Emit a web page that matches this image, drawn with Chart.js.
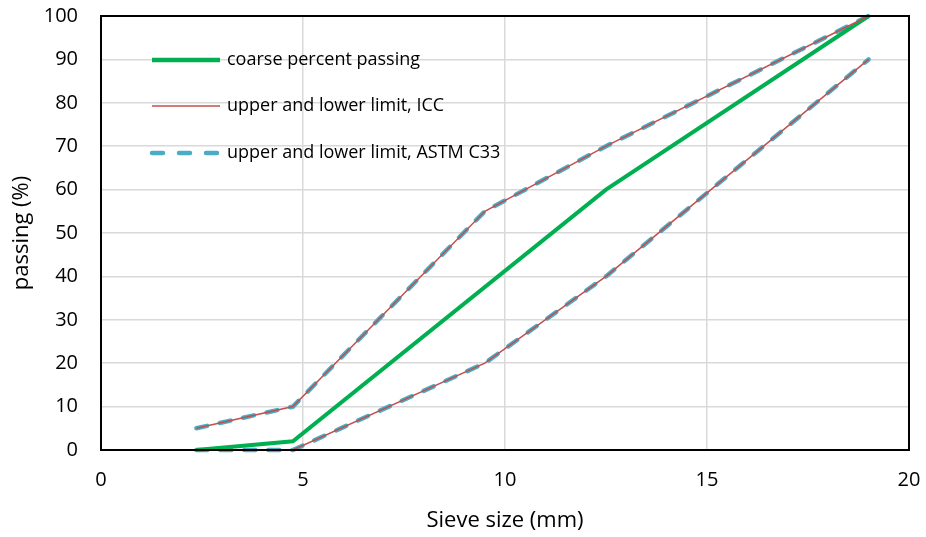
<!DOCTYPE html>
<html>
<head>
<meta charset="utf-8">
<script src="https://cdn.jsdelivr.net/npm/chart.js@4/dist/chart.umd.min.js"></script>
<style>
  html, body { margin: 0; padding: 0; background: #fff; }
  #wrap { width: 926px; height: 537px; }
</style>
</head>
<body>
<div id="wrap"><canvas id="c" width="926" height="537"></canvas></div>
<script>
// Sieve sizes (mm) and percent passing
const coarseSizes   = [2.36, 4.75, 12.5, 19];
const coarsePassing = [0, 2, 60, 100];

const limitSizes = [2.36, 4.75, 9.5, 12.5, 19];
const upperLimit = [5, 10, 55, 70, 100];
const lowerLimit = [0, 0, 20, 40, 90];

const xTicks = [0, 5, 10, 15, 20];
const yTicks = [0, 10, 20, 30, 40, 50, 60, 70, 80, 90, 100];

const legendLabels = [
  'coarse percent passing',
  'upper and lower limit, ICC',
  'upper and lower limit, ASTM C33'
];

const GREEN = '#00B050';
const RED = '#C0504D';
const BLUE = '#4BACC6';
const FONT = '"Open Sans", Lato, sans-serif';

const pts = (xs, ys) => xs.map((x, i) => ({ x: x, y: ys[i] }));

const iccStyle = { borderColor: RED, borderWidth: 1.5, pointRadius: 0, tension: 0, fill: false, clip: 6 };
const astmStyle = { borderColor: BLUE, borderWidth: 4.5, borderDash: [11, 13], borderCapStyle: 'round',
  pointRadius: 0, tension: 0, fill: false, clip: 6 };

// Frame around the plotting area plus an inset legend
const framePlugin = {
  id: 'frame',
  afterDraw(chart) {
    const { ctx, chartArea: a } = chart;
    ctx.save();
    ctx.strokeStyle = '#000';
    ctx.lineWidth = 2;
    ctx.strokeRect(a.left, a.top, a.right - a.left, a.bottom - a.top);

    const items = [
      { color: GREEN, width: 4.5, dash: [], cap: 'butt', y: 60 },
      { color: RED, width: 1.5, dash: [], cap: 'butt', y: 106 },
      { color: BLUE, width: 4.5, dash: [11, 16], cap: 'round', y: 153 }
    ];
    const x0 = 152, x1 = 220;
    ctx.font = '18px ' + FONT;
    ctx.textBaseline = 'middle';
    ctx.fillStyle = '#000';
    items.forEach((it, i) => {
      ctx.beginPath();
      ctx.setLineDash(it.dash);
      ctx.lineCap = it.cap;
      ctx.strokeStyle = it.color;
      ctx.lineWidth = it.width;
      ctx.moveTo(x0, it.y);
      ctx.lineTo(x1, it.y);
      ctx.stroke();
      ctx.setLineDash([]);
      ctx.fillText(legendLabels[i], 227, it.y);
    });
    ctx.restore();
  }
};

new Chart(document.getElementById('c'), {
  type: 'line',
  data: {
    datasets: [
      Object.assign({ label: legendLabels[1] + ' upper', data: pts(limitSizes, upperLimit) }, iccStyle),
      Object.assign({ label: legendLabels[1] + ' lower', data: pts(limitSizes, lowerLimit) }, iccStyle),
      Object.assign({ label: legendLabels[0], data: pts(coarseSizes, coarsePassing),
        borderColor: GREEN, borderWidth: 4, pointRadius: 0, tension: 0, fill: false, clip: 6 }),
      Object.assign({ label: legendLabels[2] + ' upper', data: pts(limitSizes, upperLimit) }, astmStyle),
      Object.assign({ label: legendLabels[2] + ' lower', data: pts(limitSizes, lowerLimit) }, astmStyle)
    ]
  },
  options: {
    responsive: false,
    animation: false,
    layout: { padding: { top: 16, right: 17, left: 0, bottom: 0 } },
    plugins: { legend: { display: false }, tooltip: { enabled: false } },
    scales: {
      x: {
        type: 'linear',
        min: 0, max: 20,
        afterBuildTicks: s => { s.ticks = xTicks.map(v => ({ value: v })); },
        afterFit: s => { s.height = 87; s.paddingLeft = 0; s.paddingRight = 0; },
        grid: { color: '#d9d9d9', lineWidth: 1.5, drawTicks: false },
        border: { display: false },
        ticks: { font: { family: FONT, size: 20 }, color: '#000', padding: 18, maxRotation: 0 },
        title: { display: true, text: 'Sieve size (mm)', font: { family: FONT, size: 22 }, color: '#000', padding: { top: 0, bottom: 3 } }
      },
      y: {
        type: 'linear',
        min: 0, max: 100,
        afterBuildTicks: s => { s.ticks = yTicks.map(v => ({ value: v })); },
        afterFit: s => { s.width = 101; s.paddingTop = 0; s.paddingBottom = 0; },
        grid: { color: '#d9d9d9', lineWidth: 1.5, drawTicks: false },
        border: { display: false },
        ticks: { font: { family: FONT, size: 20 }, color: '#000', padding: 23 },
        title: { display: true, text: 'passing (%)', font: { family: FONT, size: 22 }, color: '#000', padding: { top: 9, bottom: 0 } }
      }
    }
  },
  plugins: [framePlugin]
});
</script>
</body>
</html>
